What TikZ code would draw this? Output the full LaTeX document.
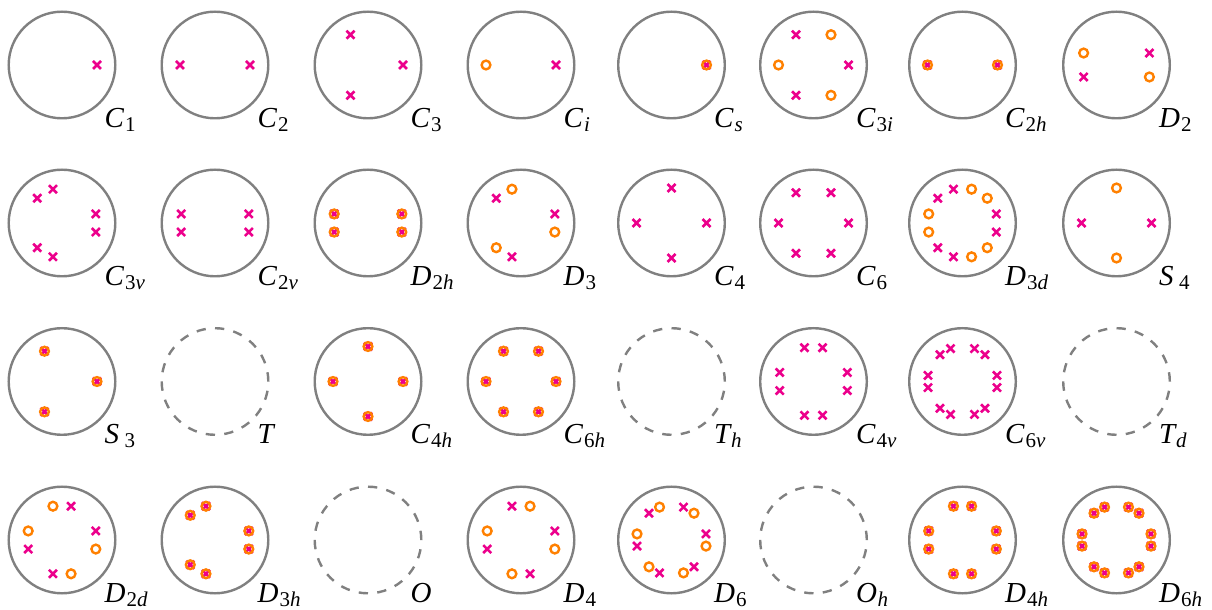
\documentclass[tikz,border=0pt]{standalone}
\usepackage{fontspec}
\setmainfont{Liberation Serif}
\usetikzlibrary{shapes.misc, calc}
\definecolor{rimgray}{HTML}{808080}
\definecolor{xpink}{HTML}{EC008C}
\definecolor{oorange}{HTML}{FF8000}
\tikzset{
  % --- Stereographic discs ------------------------------------
  rim/.style={draw=rimgray, circle, line width=2.4pt, minimum size=106.6pt,
    inner sep=0pt, outer sep=0pt},
  rimd/.style={rim, dash pattern=on 9.3pt off 9.3pt},
  % --- Points above and below the plane -----------------------
  xmark/.style={draw=xpink, cross out, line width=2.6pt, minimum size=8pt,
    inner sep=0pt, outer sep=0pt},
  omark/.style={draw=oorange, circle, line width=2.4pt, minimum size=8.8pt,
    inner sep=0pt, outer sep=0pt},
  grp/.style={anchor=base west, inner sep=0pt, outer sep=0pt,
    font=\fontsize{29}{29}\selectfont}
}
\newcommand{\wdC}{20.5pt}
\newcommand{\wdD}{22pt}
\newcommand{\wdS}{20pt}
\newcommand{\wdT}{17pt}
\newcommand{\wdO}{21.5pt}
\newcommand{\grpname}[2]{\makebox[\csname wd#1\endcsname][l]{\textit{#1}}\raisebox{-4pt}{\fontsize{21}{21}\selectfont #2}}
\newcommand{\xset}[2]{\foreach \a in {#2} {\node[xmark] (#1x\a) at ($(#1)+(\a:35)$) {};}}
\newcommand{\oset}[2]{\foreach \a in {#2} {\node[omark] (#1o\a) at ($(#1)+(\a:35)$) {};}}
\newcommand{\grplabel}[3]{\node[grp] (#1l) at ($(#1)+(42.5,-62.5)$) {\grpname{#2}{#3}};}

\begin{document}
\begin{tikzpicture}[x=1pt, y=1pt]
  \useasboundingbox (0,0) rectangle (1212,610);

  % --- Row 1 ---------------------------------------------------
  \node[rim] (C1) at (62,545) {};
  \node[rim] (C2) at (215,545) {};
  \node[rim] (C3) at (368,545) {};
  \node[rim] (Ci) at (521,545) {};
  \node[rim] (Cs) at (671.5,545) {};
  \node[rim] (C3i) at (813.5,545) {};
  \node[rim] (C2h) at (962.5,545) {};
  \node[rim] (D2) at (1116.5,545) {};
  \xset{C1}{0}
  \xset{C2}{0,180}
  \xset{C3}{0,120,240}
  \xset{Ci}{0}
  \oset{Ci}{180}
  \xset{Cs}{0}
  \oset{Cs}{0}
  \xset{C3i}{0,120,240}
  \oset{C3i}{60,180,300}
  \xset{C2h}{0,180}
  \oset{C2h}{0,180}
  \xset{D2}{20,200}
  \oset{D2}{160,340}
  \grplabel{C1}{C}{1}
  \grplabel{C2}{C}{2}
  \grplabel{C3}{C}{3}
  \grplabel{Ci}{C}{\textit{i}}
  \grplabel{Cs}{C}{\textit{s}}
  \grplabel{C3i}{C}{3\textit{i}}
  \grplabel{C2h}{C}{2\textit{h}}
  \grplabel{D2}{D}{2}

  % --- Row 2 ---------------------------------------------------
  \node[rim] (C3v) at (62,387) {};
  \node[rim] (C2v) at (215,387) {};
  \node[rim] (D2h) at (368,387) {};
  \node[rim] (D3) at (521,387) {};
  \node[rim] (C4) at (671.5,387) {};
  \node[rim] (C6) at (813.5,387) {};
  \node[rim] (D3d) at (962.5,387) {};
  \node[rim] (S4) at (1116.5,387) {};
  \xset{C3v}{15,105,135,225,255,345}
  \xset{C2v}{15,165,195,345}
  \xset{D2h}{15,165,195,345}
  \oset{D2h}{15,165,195,345}
  \xset{D3}{15,135,255}
  \oset{D3}{105,225,345}
  \xset{C4}{0,90,180,270}
  \xset{C6}{0,60,120,180,240,300}
  \xset{D3d}{15,105,135,225,255,345}
  \oset{D3d}{45,75,165,195,285,315}
  \xset{S4}{0,180}
  \oset{S4}{90,270}
  \grplabel{C3v}{C}{3\textit{v}}
  \grplabel{C2v}{C}{2\textit{v}}
  \grplabel{D2h}{D}{2\textit{h}}
  \grplabel{D3}{D}{3}
  \grplabel{C4}{C}{4}
  \grplabel{C6}{C}{6}
  \grplabel{D3d}{D}{3\textit{d}}
  \grplabel{S4}{S}{4}

  % --- Row 3 ---------------------------------------------------
  \node[rim] (S3) at (62,228.5) {};
  \node[rimd] (T) at (215,228.5) {};
  \node[rim] (C4h) at (368,228.5) {};
  \node[rim] (C6h) at (521,228.5) {};
  \node[rimd] (Th) at (671.5,228.5) {};
  \node[rim] (C4v) at (813.5,228.5) {};
  \node[rim] (C6v) at (962.5,228.5) {};
  \node[rimd] (Td) at (1116.5,228.5) {};
  \xset{S3}{0,120,240}
  \oset{S3}{0,120,240}
  \xset{C4h}{0,90,180,270}
  \oset{C4h}{0,90,180,270}
  \xset{C6h}{0,60,120,180,240,300}
  \oset{C6h}{0,60,120,180,240,300}
  \xset{C4v}{15,75,105,165,195,255,285,345}
  \xset{C6v}{10,50,70,110,130,170,190,230,250,290,310,350}
  \grplabel{S3}{S}{3}
  \grplabel{T}{T}{}
  \grplabel{C4h}{C}{4\textit{h}}
  \grplabel{C6h}{C}{6\textit{h}}
  \grplabel{Th}{T}{\textit{h}}
  \grplabel{C4v}{C}{4\textit{v}}
  \grplabel{C6v}{C}{6\textit{v}}
  \grplabel{Td}{T}{\textit{d}}

  % --- Row 4 ---------------------------------------------------
  \node[rim] (D2d) at (62,70) {};
  \node[rim] (D3h) at (215,70) {};
  \node[rimd] (O) at (368,70) {};
  \node[rim] (D4) at (521,70) {};
  \node[rim] (D6) at (671.5,70) {};
  \node[rimd] (Oh) at (813.5,70) {};
  \node[rim] (D4h) at (962.5,70) {};
  \node[rim] (D6h) at (1116.5,70) {};
  \xset{D2d}{15,75,195,255}
  \oset{D2d}{105,165,285,345}
  \xset{D3h}{15,105,135,225,255,345}
  \oset{D3h}{15,105,135,225,255,345}
  \xset{D4}{15,105,195,285}
  \oset{D4}{75,165,255,345}
  \xset{D6}{10,70,130,190,250,310}
  \oset{D6}{50,110,170,230,290,350}
  \xset{D4h}{15,75,105,165,195,255,285,345}
  \oset{D4h}{15,75,105,165,195,255,285,345}
  \xset{D6h}{10,50,70,110,130,170,190,230,250,290,310,350}
  \oset{D6h}{10,50,70,110,130,170,190,230,250,290,310,350}
  \grplabel{D2d}{D}{2\textit{d}}
  \grplabel{D3h}{D}{3\textit{h}}
  \grplabel{O}{O}{}
  \grplabel{D4}{D}{4}
  \grplabel{D6}{D}{6}
  \grplabel{Oh}{O}{\textit{h}}
  \grplabel{D4h}{D}{4\textit{h}}
  \grplabel{D6h}{D}{6\textit{h}}

\end{tikzpicture}
\end{document}
